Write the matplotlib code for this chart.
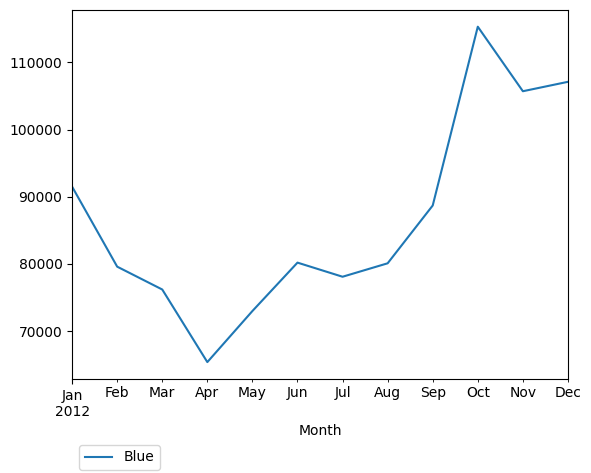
import matplotlib
matplotlib.use("Agg")
import matplotlib.pyplot as plt
import pandas as pd

months = pd.period_range("2012-01", periods=12, freq="M")
blue = [91500, 79600, 76200, 65400, 73000, 80200, 78100, 80100, 88700, 115300, 105700, 107100]

df = pd.DataFrame({"Blue": blue}, index=months)
df.index.name = "Month"

fig, ax = plt.subplots(figsize=(5.91, 4.73), dpi=100)
df.plot(ax=ax)
ax.legend(loc="upper left", bbox_to_anchor=(0, -0.16))
fig.subplots_adjust(left=0.122, right=0.961, top=0.979, bottom=0.199)
fig.savefig("out.png")
